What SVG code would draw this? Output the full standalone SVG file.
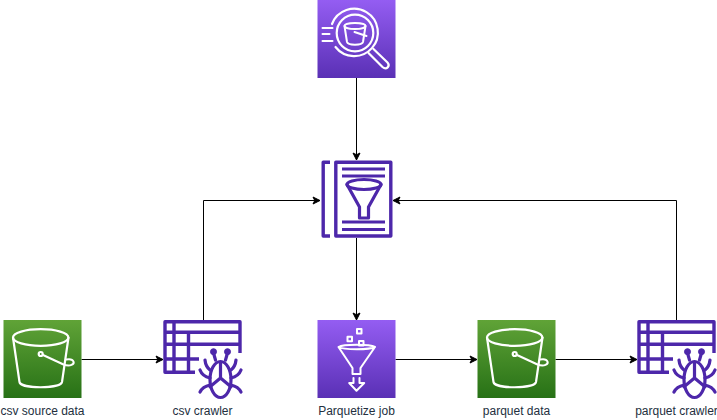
<svg xmlns="http://www.w3.org/2000/svg" width="717" height="420" viewBox="0 0 717 420">
<style>
.lbl{font-family:"Liberation Sans",Arial,sans-serif;font-size:12px;fill:#232F3E;text-anchor:middle}
.conn{fill:none;stroke:#000;stroke-width:1;marker-end:url(#arrow)}
.w{fill:none;stroke:#fff;stroke-width:2;stroke-linejoin:round;stroke-linecap:round}
.p{fill:none;stroke:#4D27AA;stroke-width:3.4;stroke-linejoin:round}
.pt{fill:none;stroke:#4D27AA;stroke-width:3.2;stroke-linecap:round;stroke-linejoin:round}
</style>
<defs>
<linearGradient id="gp" x1="0" y1="0" x2="0" y2="1"><stop offset="0" stop-color="#945DF2"/><stop offset="1" stop-color="#5A30B5"/></linearGradient>
<linearGradient id="gg" x1="0" y1="0" x2="0" y2="1"><stop offset="0" stop-color="#60A337"/><stop offset="1" stop-color="#277116"/></linearGradient>
<marker id="arrow" markerUnits="userSpaceOnUse" markerWidth="9" markerHeight="9" refX="7" refY="4.5" orient="auto" overflow="visible"><path d="M0,1 L7,4.5 L0,8 L1.75,4.5 Z" fill="#000" stroke="#000" stroke-width="1"/></marker>
<g id="bucket">
<rect width="78" height="78" fill="url(#gg)"/>
<ellipse cx="37.2" cy="17.5" rx="27.7" ry="8.3" class="w" style="stroke-width:2.2"/>
<path d="M9.5,17.5 L16,62 C17,69 57,69 58.5,62 L65,17.5" class="w" style="stroke-width:2.2"/>
<circle cx="37.2" cy="34" r="2" class="w" style="stroke-width:2.2"/>
<path d="M39.5,35 L60,44.5 C67,47 71,44 70,41.5 C69,39 65,39 62.5,39.5" class="w"/>
</g>
<g id="crawler">
<path d="M76.5,33 V1.7 H1.5 V52.3 H31.5" class="p"/>
<path d="M10.5,1.7 V52.3 M25,12.3 V52.3 M1.5,12.3 H76.5 M1.5,24.3 H76.5 M1.5,39 H35.5" class="p"/>
<ellipse cx="57" cy="59.5" rx="10.5" ry="18" class="pt"/>
<path d="M57,42 V58 M46.5,66.7 L57,58 L67.5,66.7" class="pt"/>
<circle cx="50" cy="31.7" r="3" fill="#4D27AA" stroke="#4D27AA"/>
<circle cx="64" cy="31.7" r="3" fill="#4D27AA" stroke="#4D27AA"/>
<path d="M50,33 L52,40 M64,33 L62,40" class="pt"/>
<path d="M41.5,40 C42,45 44,48 46.5,50 M72.5,40 C72,45 70,48 67.5,50 M36.5,50 C38,54 42,57 46.5,58 M77.5,50 C76,54 72,57 67.5,58 M36.5,72 C38,69 42,66 46.5,65 M77.5,72 C76,69 72,66 67.5,65" class="pt"/>
</g>
</defs>

<g id="connectors">
<path class="conn" d="M356.5,78 V160"/>
<path class="conn" d="M356.5,238 V320"/>
<path class="conn" d="M203.5,320 V200.5 H320"/>
<path class="conn" d="M676.5,320 V200.5 H393"/>
<path class="conn" d="M81.5,359.5 H163"/>
<path class="conn" d="M395.5,359.5 H477"/>
<path class="conn" d="M555.5,359.5 H637"/>
</g>

<g id="node-analyzer" transform="translate(317.5,0)">
<rect width="78" height="78" fill="url(#gp)"/>
<path d="M14.5,24 A23.7,23.7 0 1 1 18,47" class="w" style="stroke-width:2.2"/>
<circle cx="37.5" cy="33" r="18.3" class="w" style="stroke-width:2.2"/>
<ellipse cx="37.5" cy="26" rx="10.5" ry="3" class="w"/>
<path d="M27,26 L29.5,42 C30.5,45.5 44.5,45.5 45.5,42 L48,26" class="w"/>
<path d="M37,32 L49,36" class="w"/>
<path d="M5,28 H15 M5,34 H12 M5,41 H15" class="w"/>
<path d="M51,53 L65,67 C69,70.5 73,66 70,62.5 L56,49" class="w" style="stroke-width:2.2"/>
</g>

<g id="node-filter" transform="translate(321,160)">
<path d="M9,2.2 H2.2 V76 H9" class="p"/>
<rect x="14.8" y="2.2" width="55" height="73.8" class="p"/>
<path d="M21,9 H64 M21,16 H64 M21,62 H64 M21,69.5 H64" class="p" style="stroke-width:3"/>
<ellipse cx="43" cy="24.5" rx="17" ry="5" class="pt"/>
<path d="M26,24.5 L38.5,47 V58 H47.5 V47 L60,24.5" class="pt"/>
</g>

<g id="node-csv-source" transform="translate(3.5,320)">
<use href="#bucket"/>
<text class="lbl" x="39" y="95">csv source data</text>
</g>

<g id="node-csv-crawler" transform="translate(163.5,320)">
<use href="#crawler"/>
<text class="lbl" x="39" y="95">csv crawler</text>
</g>

<g id="node-parquetize" transform="translate(317.5,320)">
<rect width="78" height="78" fill="url(#gp)"/>
<path d="M21,27 C26,24 52,24 57.5,27 C52,30 26,30 21,27 L35,48 V54 H43 V48 L57.5,27" class="w"/>
<rect x="30" y="16.7" width="4.5" height="4.5" class="w"/>
<rect x="39.5" y="9" width="4.5" height="4.5" class="w"/>
<rect x="41.5" y="21" width="4.5" height="4.5" class="w"/>
<path d="M36,58 V63 H31.7 L39,70.7 L46.7,63 H42 V58" class="w"/>
<text class="lbl" x="39" y="95">Parquetize job</text>
</g>

<g id="node-parquet-data" transform="translate(477.5,320)">
<use href="#bucket"/>
<text class="lbl" x="39" y="95">parquet data</text>
</g>

<g id="node-parquet-crawler" transform="translate(637.5,320)">
<use href="#crawler"/>
<text class="lbl" x="39" y="95">parquet crawler</text>
</g>
</svg>
